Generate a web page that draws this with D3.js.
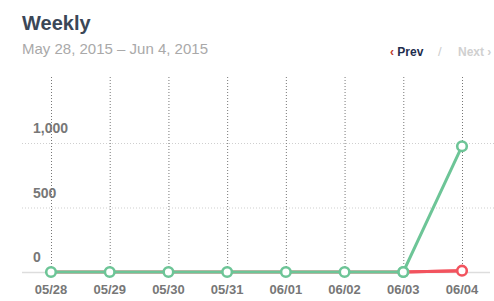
<!DOCTYPE html>
<html><head><meta charset="utf-8">
<script src="https://cdn.jsdelivr.net/npm/d3@7"></script>
<style>body{margin:0;background:#fff;font-family:"Liberation Sans",Arial,sans-serif;}svg{display:block}</style>
</head><body>
<svg id="c" width="494" height="301"></svg>
<script>
const categories = ["05/28","05/29","05/30","05/31","06/01","06/02","06/03","06/04"];
const greenValues = [0,0,0,0,0,0,0,975];
const redValues = [0,0,0,0,0,0,0,10];
const yTicks = [0,500,1000];

const svg = d3.select("#c");
const x = d3.scalePoint().domain(categories).range([51,462]);
const y = d3.scaleLinear().domain([0,1000]).range([272,143]);
const plotTop = 77;

svg.append("text").attr("x",22).attr("y",30).text("Weekly")
  .attr("font-size",20).attr("font-weight","bold").attr("fill","#3b4757");
svg.append("text").attr("x",22).attr("y",54).text("May 28, 2015 – Jun 4, 2015")
  .attr("font-size",15).attr("fill","#a9a9a9");
const nav = svg.append("text").attr("y",56).attr("font-size",12).attr("font-weight","bold");
nav.append("tspan").attr("x",390).attr("fill","#c0392b").text("‹ ");
nav.append("tspan").attr("fill","#1f2d4d").text("Prev");
svg.append("text").attr("x",438).attr("y",56).attr("font-size",13).attr("fill","#cccccc").text("/");
svg.append("text").attr("x",458).attr("y",56).attr("font-size",12).attr("font-weight","bold").attr("fill","#d0d0d0").text("Next ›");

yTicks.filter(d=>d>0).forEach(d=>{
  svg.append("line").attr("x1",22).attr("x2",494).attr("y1",y(d)+0.5).attr("y2",y(d)+0.5)
    .attr("stroke","#cfcfcf").attr("stroke-dasharray","1,2");
});
categories.forEach(c=>{
  svg.append("line").attr("x1",x(c)+0.5).attr("x2",x(c)+0.5).attr("y1",plotTop).attr("y2",y(0))
    .attr("stroke","#777").attr("stroke-dasharray","1,2");
});
svg.append("line").attr("x1",22).attr("x2",490).attr("y1",y(0)+0.5).attr("y2",y(0)+0.5)
  .attr("stroke","#dddddd").attr("stroke-width",1.5);

yTicks.forEach(d=>{
  svg.append("text").attr("x",33).attr("y",y(d)-10).text(d3.format(",")(d))
    .attr("font-size",14).attr("font-weight","bold").attr("fill","#777");
});
categories.forEach(c=>{
  svg.append("text").attr("x",x(c)).attr("y",294).attr("text-anchor","middle").text(c)
    .attr("font-size",13).attr("font-weight","bold").attr("fill","#777");
});

const line = d3.line().x((d,i)=>x(categories[i])).y(d=>y(d));
function points(vals,color,idx){
  svg.selectAll(null).data(idx).enter().append("circle")
    .attr("cx",i=>x(categories[i])).attr("cy",i=>y(vals[i])).attr("r",4.8)
    .attr("fill","#fff").attr("stroke",color).attr("stroke-width",2.6);
}
svg.append("path").datum(redValues).attr("d",line).attr("fill","none")
  .attr("stroke","#f2535e").attr("stroke-width",3);
svg.append("path").datum(greenValues).attr("d",line).attr("fill","none")
  .attr("stroke","#6dc597").attr("stroke-width",3);
svg.append("path").datum([redValues[6],redValues[7]])
  .attr("d",d3.line().x((d,i)=>x(categories[6+i])).y(d=>y(d)))
  .attr("fill","none").attr("stroke","#f2535e").attr("stroke-width",3);
points(greenValues,"#6dc597",[0,1,2,3,4,5,6,7]);
points(redValues,"#f2535e",[7]);
points(greenValues,"#6dc597",[6]);
</script>
</body></html>
